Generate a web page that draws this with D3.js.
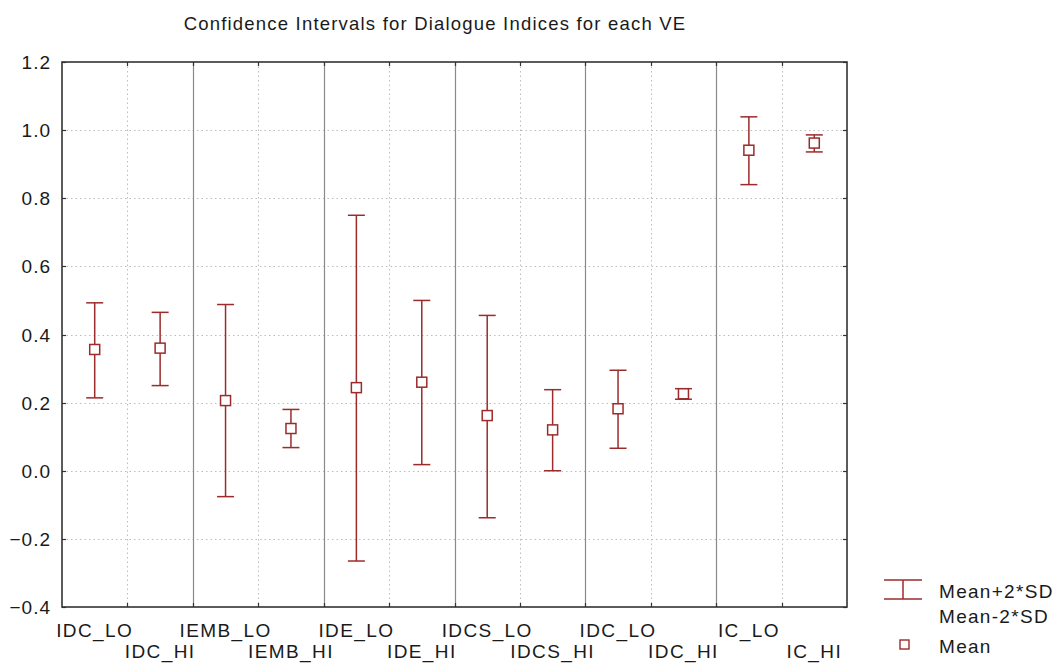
<!DOCTYPE html>
<html><head><meta charset="utf-8">
<script src="https://cdn.jsdelivr.net/npm/d3@7"></script>
<style>body{margin:0;background:#fff}svg{display:block}text{font-family:"Liberation Sans",Arial,sans-serif;fill:#1a1a1a}</style>
</head><body><svg id="c" width="1060" height="664"></svg>
<script>
const categories = ["IDC_LO","IDC_HI","IEMB_LO","IEMB_HI","IDE_LO","IDE_HI","IDCS_LO","IDCS_HI","IDC_LO","IDC_HI","IC_LO","IC_HI"];
const means = [0.356,0.360,0.206,0.124,0.244,0.260,0.162,0.120,0.182,0.226,0.941,0.962];
const upper = [0.493,0.465,0.488,0.180,0.750,0.500,0.456,0.238,0.295,0.241,1.039,0.986];
const lower = [0.214,0.250,-0.076,0.068,-0.265,0.018,-0.138,0.000,0.066,0.210,0.840,0.936];
const yTicks = [-0.4,-0.2,0.0,0.2,0.4,0.6,0.8,1.0,1.2];
const title = "Confidence Intervals for Dialogue Indices for each VE";
const legendLabels = ["Mean+2*SD","Mean-2*SD","Mean"];

const svg = d3.select("#c");
const L=62,R=847,T=62,B=607;
const red="#9c2b2b";
const x = d3.scaleBand().domain(d3.range(categories.length)).range([L,R]).padding(0);
const y = d3.scaleLinear().domain([-0.4,1.2]).range([B,T]);
const bw = x.bandwidth();

// title
svg.append("text").attr("x",435).attr("y",30).attr("text-anchor","middle")
  .style("font-size","18.5px").style("letter-spacing","1.2px").text(title);

// horizontal grid
svg.append("g").selectAll("line").data(yTicks.slice(1,-1)).join("line")
  .attr("x1",L).attr("x2",R).attr("y1",d=>Math.round(y(d))+0.5).attr("y2",d=>Math.round(y(d))+0.5)
  .attr("stroke","#bdbdbd").attr("stroke-dasharray","1.5,3");
// vertical lines at boundaries
const bounds = d3.range(1,categories.length);
svg.append("g").selectAll("line").data(bounds).join("line")
  .attr("x1",d=>Math.round(L+d*bw)+0.5).attr("x2",d=>Math.round(L+d*bw)+0.5)
  .attr("y1",T).attr("y2",B)
  .attr("stroke",d=>d%2===0?"#8a8a8a":"#bdbdbd")
  .attr("stroke-width",d=>d%2===0?1.2:1)
  .attr("stroke-dasharray",d=>d%2===0?null:"1.5,3");

// frame
svg.append("rect").attr("x",L).attr("y",T).attr("width",R-L).attr("height",B-T)
  .attr("fill","none").attr("stroke","#333").attr("stroke-width",1.6);

// ticks
const tk = svg.append("g").attr("stroke","#333").attr("stroke-width",1.2);
yTicks.forEach(v=>{
  const yy=Math.round(y(v))+0.5;
  tk.append("line").attr("x1",L).attr("x2",L+4).attr("y1",yy).attr("y2",yy);
  tk.append("line").attr("x1",R-4).attr("x2",R).attr("y1",yy).attr("y2",yy);
});
bounds.forEach(d=>{
  const xx=Math.round(L+d*bw)+0.5;
  tk.append("line").attr("x1",xx).attr("x2",xx).attr("y1",B-4).attr("y2",B);
  tk.append("line").attr("x1",xx).attr("x2",xx).attr("y1",T).attr("y2",T+4);
});

// y labels
svg.append("g").selectAll("text").data(yTicks).join("text")
  .attr("x",51).attr("y",d=>y(d)+7).attr("text-anchor","end")
  .style("font-size","19px").style("letter-spacing","1px").text(d=>d3.format(".1f")(d));

// x labels
svg.append("g").selectAll("text").data(categories).join("text")
  .attr("x",(d,i)=>x(i)+bw/2).attr("y",(d,i)=>i%2===0?637:658).attr("text-anchor","middle")
  .style("font-size","19px").style("letter-spacing","1.4px").text(d=>d);

// error bars
const cap=8.5;
const g = svg.append("g").attr("stroke",red).attr("stroke-width",1.5).attr("fill","none");
categories.forEach((c,i)=>{
  const cx=x(i)+bw/2;
  g.append("line").attr("x1",cx).attr("x2",cx).attr("y1",y(upper[i])).attr("y2",y(lower[i]));
  g.append("line").attr("x1",cx-cap).attr("x2",cx+cap).attr("y1",y(upper[i])).attr("y2",y(upper[i]));
  g.append("line").attr("x1",cx-cap).attr("x2",cx+cap).attr("y1",y(lower[i])).attr("y2",y(lower[i]));
  g.append("rect").attr("x",cx-5).attr("y",y(means[i])-5).attr("width",10).attr("height",10).attr("fill","#fff");
});

// legend
const lg = svg.append("g");
lg.append("line").attr("x1",884).attr("x2",922).attr("y1",580).attr("y2",580).attr("stroke",red).attr("stroke-width",1.5);
lg.append("line").attr("x1",884).attr("x2",922).attr("y1",599).attr("y2",599).attr("stroke",red).attr("stroke-width",1.5);
lg.append("line").attr("x1",903).attr("x2",903).attr("y1",580).attr("y2",599).attr("stroke",red).attr("stroke-width",1.5);
lg.append("rect").attr("x",900).attr("y",640).attr("width",9).attr("height",9).attr("fill","#fff").attr("stroke",red).attr("stroke-width",1.4);
[598,623,653].forEach((yy,i)=>{
  lg.append("text").attr("x",939).attr("y",yy).style("font-size","19px").style("letter-spacing","1.3px").text(legendLabels[i]);
});
</script></body></html>
